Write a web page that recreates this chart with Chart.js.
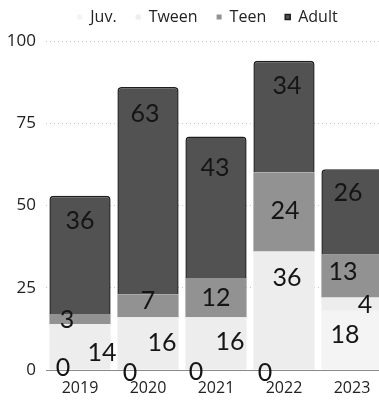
<!DOCTYPE html>
<html>
<head>
<meta charset="utf-8">
<script src="https://cdn.jsdelivr.net/npm/chart.js@4/dist/chart.umd.min.js"></script>
<style>
  html, body { margin: 0; padding: 0; background: #fff; overflow: hidden; }
  #wrap { position: relative; width: 379px; height: 402px; }
</style>
</head>
<body>
<div id="wrap"><canvas id="chart"></canvas></div>
<script>
// Age groups per year (stacked)
const years = ['2019', '2020', '2021', '2022', '2023'];
const juv   = [0, 0, 0, 0, 18];
const tween = [14, 16, 16, 36, 4];
const teen  = [3, 7, 12, 24, 13];
const adult = [36, 63, 43, 34, 26];
const yTicks = [0, 25, 50, 75, 100];

// Hand placement of the value labels: [dx, dy] from the segment centre
// (from the segment top for the last series)
const labelShift = [
  [[-17, -2], [-18, 3], [-20, 2], [-19, 3], [-7, -5]],
  [[22, 6], [14, 0], [14, -1], [3, -33], [13, 1]],
  [[-13, 1], [0, -5], [0, 0], [1, -1], [-9, -4]],
  [[0, 25], [-3, 27], [-1, 32], [3, 25], [-4, 24]]
];

const valueLabels = {
  id: 'valueLabels',
  afterDatasetsDraw(chart) {
    const ctx = chart.ctx;
    ctx.save();
    ctx.font = '400 25px Lato, sans-serif';
    ctx.fillStyle = '#151515';
    ctx.textAlign = 'center';
    ctx.textBaseline = 'middle';
    chart.data.datasets.forEach((ds, di) => {
      const meta = chart.getDatasetMeta(di);
      meta.data.forEach((bar, i) => {
        const p = bar.getProps(['x', 'y', 'base'], true);
        const top = Math.min(p.y, p.base);
        const mid = (p.y + p.base) / 2;
        const s = labelShift[di][i];
        const yy = di === 3 ? top + s[1] : mid + s[1];
        ctx.fillText(String(ds.data[i]), p.x + s[0], yy);
      });
    });
    ctx.restore();
  }
};

// Let the plot run a few pixels past the right edge, and move the
// legend row up and to the right of its default slot
const layoutTweaks = {
  id: 'layoutTweaks',
  afterLayout(chart) {
    const extra = 7;
    const x = chart.scales.x;
    x.right += extra;
    x.width += extra;
    x.configure();
    chart.chartArea.right += extra;
    chart.chartArea.width += extra;

    const lg = chart.legend;
    if (lg) {
      lg.left += 18; lg.right += 18;
      lg.top -= 10;
    }
  }
};

new Chart(document.getElementById('chart'), {
  type: 'bar',
  data: {
    labels: years,
    datasets: [
      { label: 'Juv.', data: juv, backgroundColor: '#f4f4f4', borderWidth: 0 },
      { label: 'Tween', data: tween, backgroundColor: '#ededed', borderWidth: 0 },
      { label: 'Teen', data: teen, backgroundColor: '#929292', borderWidth: 0 },
      { label: 'Adult', data: adult, backgroundColor: '#525252',
        borderColor: '#1e1e1e', borderWidth: 1.5, borderRadius: 4 }
    ]
  },
  options: {
    responsive: true,
    maintainAspectRatio: false,
    animation: false,
    layout: { padding: 0 },
    datasets: { bar: { barPercentage: 0.9, categoryPercentage: 1.0 } },
    plugins: {
      legend: {
        position: 'top',
        maxHeight: 41,
        labels: {
          boxWidth: 5, boxHeight: 5, padding: 19,
          color: '#222',
          font: { family: '"Open Sans", sans-serif', size: 16 }
        }
      },
      tooltip: { enabled: false }
    },
    scales: {
      x: {
        stacked: true,
        afterFit(scale) { scale.height = 32; },
        grid: { display: false, drawTicks: false },
        border: { display: true, color: '#8a8a8a', width: 1 },
        ticks: { color: '#222', padding: 9, font: { family: '"Open Sans", sans-serif', size: 16 } }
      },
      y: {
        stacked: true,
        min: 0, max: 100,
        afterBuildTicks(scale) { scale.ticks = yTicks.map(v => ({ value: v })); },
        afterFit(scale) { scale.width = 46; },
        grid: { color: '#c4c4c4', drawTicks: false, lineWidth: 1 },
        border: { display: false, dash: [1, 3] },
        ticks: { color: '#222', padding: 10, font: { family: '"Open Sans", sans-serif', size: 17 } }
      }
    }
  },
  plugins: [valueLabels, layoutTweaks]
});
</script>
</body>
</html>
